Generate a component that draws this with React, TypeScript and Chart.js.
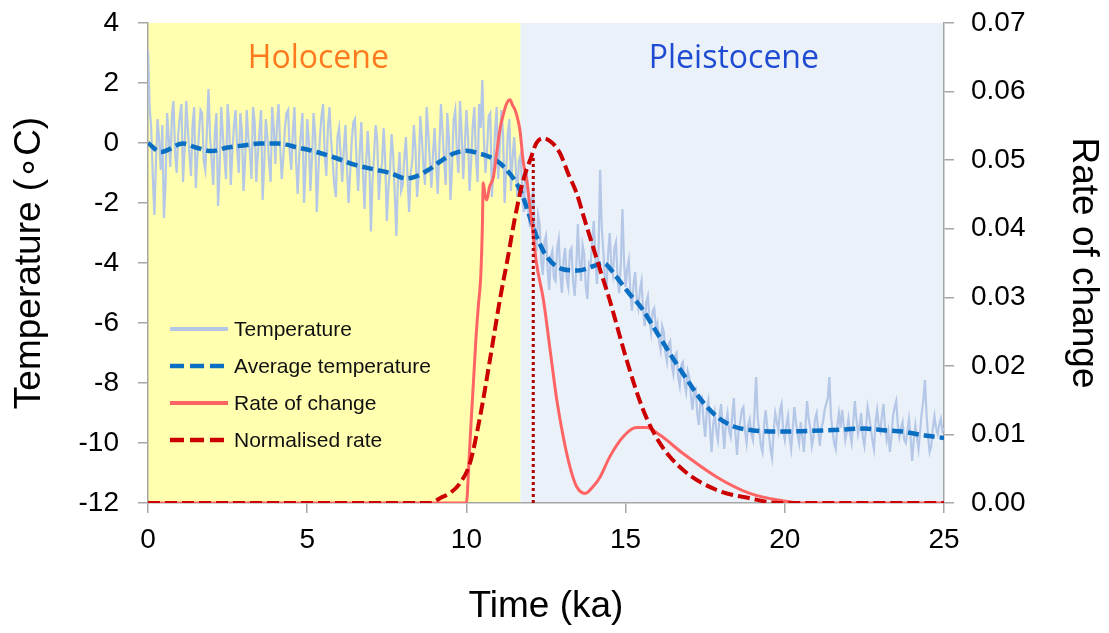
import React, { useEffect, useRef } from "react";
import { Chart, registerables } from "chart.js";

Chart.register(...registerables);

// ---------- axes ----------
const X_TICKS = [0, 5, 10, 15, 20, 25];
const TEMP_TICKS = [-12, -10, -8, -6, -4, -2, 0, 2, 4];
const RATE_TICKS = [0, 0.01, 0.02, 0.03, 0.04, 0.05, 0.06, 0.07];

// ---------- periods ----------
const PERIOD_NAMES = ["Holocene", "Pleistocene"];
const PERIOD_BOUNDS = [0, 11.7, 25];
const PERIOD_LABEL_X = [5.35, 18.4];
const PERIOD_LABEL_Y = [2.49, 2.49];

// ---------- temperature (ka, step 0.05) ----------
const TEMP_START = 0;
const TEMP_STEP = 0.05;
const TEMP_VALUES = [
  3.1, 1.2, 0.5, -1.1, -2.4, -0.6, 0.8, 0.1, -0.9, 0.6, -2.5, -1.4, 1.0, 0.2, -0.8, 0.9, 1.4, -0.3, -1.0, 0.3,
  0.9, 1.3, -1.3, -0.2, 1.4, 0.5, -0.4, -1.1, 0.6, 1.2, -1.5, -0.5, 0.3, 1.1, 1.0, -0.6, -0.9, 0.4, 1.8, 0.2,
  -0.6, -1.4, 0.4, 1.0, -2.1, -0.9, 1.2, 0.3, -0.5, -1.2, 1.3, 0.6, -1.4, -0.3, 0.6, 1.1, -0.2, -1.0, 1.0, 0.4,
  -1.6, -0.6, 1.1, 0.2, -0.3, -1.2, 1.2, 0.7, -1.3, -0.4, 0.4, 1.1, -1.9, -0.7, 0.8, 0.2, -0.6, -1.3, 1.2, 0.5,
  -0.7, 0.6, 1.3, -0.1, -1.2, -0.5, 0.5, 1.0, 1.1, -0.3, -0.9, 0.4, 1.2, -0.6, -1.7, -0.4, 0.3, 1.0, -2.0, -0.8,
  0.8, 0.1, -1.6, -0.5, 1.0, 0.3, -2.3, -1.0, 0.2, 0.9, 1.3, -0.4, -1.1, 0.5, 1.2, 0.1, -0.6, -1.4, -1.8, 0.2,
  0.5, -0.4, -1.3, -0.2, 0.6, -0.8, -2.0, -1.0, 0.1, 0.7, 0.8, -0.6, -1.6, -0.3, 0.7, -0.9, -2.2, -0.7, 0.4, -0.5,
  -2.95, -1.3, -0.4, 0.6, 0.1, -1.9, -1.0, -0.7, 0.5, -0.6, -2.6, -1.5, -0.9, 0.3, -0.4, -1.7, -3.1, -1.2, -0.3, -1.6,
  -1.4, -0.5, 0.2, -1.1, -2.3, -1.0, -0.6, 0.6, -0.2, -1.8, -1.1, 0.9, 0.2, -0.8, -1.4, 1.2, 0.4, -0.6, -1.5, -0.4,
  0.5, -0.7, -1.7, -0.2, 1.3, 0.4, -0.6, -1.4, 1.0, 0.2, -1.9, -0.8, 0.8, 1.1, -0.3, -1.0, 1.4, 0.3, -1.2, -0.1,
  1.1, 0.2, -1.6, -0.6, 0.6, 1.2, -0.5, -1.3, 1.3, 0.5, 2.1, 0.1, -1.0, -0.2, 0.9, 1.0, -1.8, -0.9, 0.4, 1.2,
  -1.2, -0.1, 1.1, 0.3, -2.0, -0.9, 0.3, 0.8, -1.6, -0.5, 0.2, -0.8, -1.8, -0.6, -0.4, -1.4, -2.3, -1.1, -1.0, -2.4,
  -2.8, -1.9, -1.6, -3.0, -3.6, -2.4, -2.7, -3.9, -4.4, -3.3, -3.1, -4.2, -4.9, -3.8, -3.6, -4.5, -4.6, -3.5, -3.2, -4.4,
  -5.0, -3.9, -3.5, -4.5, -4.8, -3.6, -3.5, -4.6, -5.1, -4.2, -2.7, -3.9, -4.6, -3.4, -3.7, -4.8, -5.2, -4.0, -4.1, -3.3,
  -2.6, -3.8, -4.7, -3.6, -0.9, -2.8, -3.6, -4.5, -4.9, -3.7, -3.0, -4.1, -4.4, -3.5, -3.3, -4.6, -5.0, -4.0, -2.2, -3.9,
  -4.8, -4.2, -3.9, -5.0, -5.6, -4.7, -4.3, -5.2, -5.5, -4.9, -4.6, -5.6, -6.1, -5.3, -5.1, -5.9, -6.3, -5.6, -5.5, -6.2,
  -6.0, -6.6, -6.9, -6.1, -6.3, -7.0, -7.3, -6.7, -6.6, -7.4, -7.7, -7.1, -7.0, -7.8, -8.1, -7.4, -7.3, -8.0, -8.3, -7.6,
  -7.8, -8.4, -8.9, -8.3, -8.2, -9.0, -9.4, -8.6, -8.5, -9.3, -9.8, -8.9, -8.6, -9.5, -10.3, -9.4, -9.0, -9.6, -9.9, -9.1,
  -8.7, -9.5, -10.2, -9.3, -9.0, -9.6, -9.8, -9.1, -8.5, -9.7, -10.4, -9.6, -9.3, -8.9, -8.8, -9.6, -10.0, -9.4, -9.2, -9.7,
  -9.9, -8.9, -7.8, -9.2, -9.6, -10.1, -10.3, -9.4, -8.9, -9.5, -9.7, -10.2, -10.5, -9.6, -9.0, -9.3, -9.6, -8.9, -8.7, -9.6,
  -9.9, -9.4, -9.1, -9.8, -10.2, -9.5, -8.8, -9.3, -9.7, -10.0, -9.3, -9.8, -10.3, -9.4, -8.6, -9.2, -9.5, -10.1, -9.8, -9.2,
  -9.0, -9.6, -10.1, -9.5, -9.3, -8.9, -8.7, -8.5, -7.8, -9.1, -9.6, -10.0, -10.2, -9.4, -9.0, -9.5, -8.9, -9.4, -9.9, -9.6,
  -9.2, -9.7, -10.0, -9.3, -8.6, -9.2, -9.7, -9.4, -9.0, -9.8, -10.1, -9.5, -8.8, -9.1, -9.5, -9.9, -10.2, -9.3, -8.9, -9.4,
  -9.6, -9.1, -8.7, -9.5, -9.9, -9.6, -10.3, -9.8, -9.1, -8.8, -8.6, -9.4, -9.8, -9.5, -9.3, -9.9, -10.0, -9.6, -9.2, -9.8,
  -10.6, -9.9, -9.4, -9.8, -10.2, -9.6, -9.0, -8.6, -7.9, -9.0, -9.8, -10.3, -10.1, -9.5, -9.1, -9.5, -9.7, -9.4, -9.2, -9.6,
  -9.5,
];

// ---------- average temperature ----------
const AVG_X = [0, 0.4, 1.1, 1.5, 2.0, 2.5, 3.0, 3.5, 4.1, 4.7, 5.3, 5.9, 6.5, 7.1, 7.6, 8.1, 8.4, 8.8, 9.2, 9.6, 10.0, 10.4, 10.8, 11.2, 11.7, 12.2, 12.5, 13.0, 13.5, 14.0, 14.3, 14.7, 15.1, 15.5, 16.0, 16.5, 17.0, 17.4, 17.9, 18.4, 19.0, 19.9, 20.7, 21.5, 22.5, 23.2, 23.7, 24.4, 25.0];
const AVG_Y = [0, -0.3, -0.02, -0.15, -0.27, -0.15, -0.08, -0.02, -0.02, -0.15, -0.3, -0.5, -0.73, -0.88, -1.0, -1.18, -1.12, -0.9, -0.6, -0.35, -0.26, -0.35, -0.5, -0.82, -1.6, -3.1, -3.75, -4.2, -4.25, -4.1, -4.0, -4.45, -5.0, -5.5, -6.35, -7.2, -8.0, -8.6, -9.15, -9.45, -9.58, -9.62, -9.6, -9.57, -9.52, -9.58, -9.62, -9.75, -9.83];

// ---------- rate of change (right axis) ----------
const RATE_X = [0, 10.0, 10.08, 10.15, 10.22, 10.3, 10.38, 10.45, 10.5, 10.53, 10.58, 10.64, 10.72, 10.85, 10.95, 11.05, 11.15, 11.27, 11.37, 11.45, 11.53, 11.6, 11.68, 11.79, 11.9, 12.0, 12.1, 12.2, 12.42, 12.63, 12.84, 13.04, 13.25, 13.46, 13.73, 13.98, 14.2, 14.51, 14.93, 15.35, 15.66, 16.08, 16.81, 17.86, 18.9, 19.95, 20.5, 25];
const RATE_Y = [0, 0, 0.006, 0.012, 0.0175, 0.024, 0.029, 0.033, 0.04, 0.0467, 0.045, 0.0442, 0.046, 0.0476, 0.051, 0.0544, 0.0565, 0.0583, 0.0588, 0.058, 0.0573, 0.0562, 0.0544, 0.0496, 0.047, 0.043, 0.039, 0.035, 0.0296, 0.0223, 0.015, 0.0097, 0.0053, 0.0024, 0.0014, 0.0024, 0.0038, 0.0068, 0.0097, 0.011, 0.011, 0.0099, 0.0072, 0.0038, 0.0014, 0.0003, 0, 0];

// ---------- normalised rate (right axis) ----------
const NORM_X = [0, 8.9, 9.17, 9.5, 9.8, 10.11, 10.43, 10.74, 11.05, 11.31, 11.5, 11.78, 12.0, 12.2, 12.41, 12.7, 12.94, 13.2, 13.46, 13.7, 13.88, 14.2, 14.5, 15.03, 15.55, 16.08, 16.81, 17.86, 18.9, 19.8, 25];
const NORM_Y = [0, 0, 0.0007, 0.0015, 0.0029, 0.0058, 0.0126, 0.0209, 0.0296, 0.036, 0.041, 0.047, 0.05, 0.0525, 0.0532, 0.0525, 0.051, 0.048, 0.0452, 0.0415, 0.0388, 0.034, 0.0296, 0.0209, 0.0136, 0.0087, 0.0048, 0.0019, 0.0007, 0, 0];

// ---------- marker line ----------
const MARKER_X = [12.1, 12.1];
const MARKER_Y = [0, 0.0505];

const LEGEND_LABELS = ["Temperature", "Average temperature", "Rate of change", "Normalised rate"];

const FONT = "'Liberation Sans', Arial, sans-serif";
const C_TEMP = "#B4C7E7";
const C_AVG = "#0A6FC2";
const C_RATE = "#FF6464";
const C_NORM = "#CC0000";
const C_MARK = "#B00000";
const AXIS_GREY = "#A6A6A6";

const zip = (xs: number[], ys: number[]) => xs.map((x, i) => ({ x, y: ys[i] }));

export default function App() {
  const ref = useRef<HTMLCanvasElement>(null);

  useEffect(() => {
    const canvas = ref.current;
    if (!canvas) return;

    const tempData = TEMP_VALUES.map((v, i) => ({ x: +(TEMP_START + i * TEMP_STEP).toFixed(3), y: v }));

    const overlay = {
      id: "overlay",
      beforeDraw(chart: any) {
        const { ctx, chartArea: a, scales } = chart;
        const fills = ["#FFFFAF", "#EBF1F9"];
        ctx.save();
        for (let i = 0; i < PERIOD_NAMES.length; i++) {
          const x0 = scales.x.getPixelForValue(PERIOD_BOUNDS[i]);
          const x1 = scales.x.getPixelForValue(PERIOD_BOUNDS[i + 1]);
          ctx.fillStyle = fills[i];
          ctx.fillRect(x0, a.top, x1 - x0, a.bottom - a.top);
        }
        ctx.restore();
      },
      afterDraw(chart: any) {
        const { ctx, chartArea: a, scales } = chart;
        ctx.save();
        const colors = ["#FF7A1E", "#1E4BD2"];
        ctx.font = "32px 'Open Sans', sans-serif";
        ctx.textAlign = "center";
        ctx.textBaseline = "alphabetic";
        for (let i = 0; i < PERIOD_NAMES.length; i++) {
          ctx.fillStyle = colors[i];
          ctx.fillText(
            PERIOD_NAMES[i],
            scales.x.getPixelForValue(PERIOD_LABEL_X[i]),
            scales.y.getPixelForValue(PERIOD_LABEL_Y[i])
          );
        }
        const styles = [
          { c: C_TEMP, w: 4, d: [] as number[] },
          { c: C_AVG, w: 4.5, d: [14, 6] },
          { c: C_RATE, w: 4, d: [] as number[] },
          { c: C_NORM, w: 4.5, d: [14, 6] },
        ];
        const lx0 = a.left + 22;
        const lx1 = a.left + 80;
        const tx = a.left + 86;
        const y0 = 329;
        const dy = 37;
        ctx.font = `21px ${FONT}`;
        ctx.textAlign = "left";
        ctx.textBaseline = "middle";
        for (let i = 0; i < LEGEND_LABELS.length; i++) {
          const y = y0 + i * dy;
          ctx.beginPath();
          ctx.strokeStyle = styles[i].c;
          ctx.lineWidth = styles[i].w;
          ctx.setLineDash(styles[i].d);
          ctx.lineCap = "butt";
          ctx.moveTo(lx0, y);
          ctx.lineTo(lx1, y);
          ctx.stroke();
          ctx.setLineDash([]);
          ctx.fillStyle = "#111";
          ctx.fillText(LEGEND_LABELS[i], tx, y + 1);
        }
        ctx.restore();
      },
    };

    const tickFont = { family: FONT, size: 28 };
    const titleFont = { family: FONT, size: 37 };

    const chart = new Chart(canvas, {
      type: "line",
      data: {
        datasets: [
          {
            label: "Normalised rate",
            data: zip(NORM_X, NORM_Y),
            yAxisID: "y2",
            borderColor: C_NORM,
            borderWidth: 4,
            borderDash: [12, 5],
            pointRadius: 0,
            cubicInterpolationMode: "monotone",
            fill: false,
          },
          {
            label: "Marker",
            data: zip(MARKER_X, MARKER_Y),
            yAxisID: "y2",
            borderColor: C_MARK,
            borderWidth: 3,
            borderDash: [3, 3],
            pointRadius: 0,
            fill: false,
          },
          {
            label: "Rate of change",
            data: zip(RATE_X, RATE_Y),
            yAxisID: "y2",
            borderColor: C_RATE,
            borderWidth: 3,
            pointRadius: 0,
            cubicInterpolationMode: "monotone",
            fill: false,
          },
          {
            label: "Average temperature",
            data: zip(AVG_X, AVG_Y),
            yAxisID: "y",
            borderColor: C_AVG,
            borderWidth: 4.5,
            borderDash: [11, 5],
            pointRadius: 0,
            cubicInterpolationMode: "monotone",
            fill: false,
          },
          {
            label: "Temperature",
            data: tempData,
            yAxisID: "y",
            borderColor: C_TEMP,
            borderWidth: 2.2,
            pointRadius: 0,
            tension: 0,
            fill: false,
          },
        ],
      },
      options: {
        responsive: false,
        animation: false,
        devicePixelRatio: 1,
        events: [],
        layout: { padding: { top: 23, left: 0, right: 0, bottom: 0 } },
        plugins: { legend: { display: false }, tooltip: { enabled: false } },
        scales: {
          x: {
            type: "linear",
            min: 0,
            max: 25,
            afterBuildTicks: (s: any) => {
              s.ticks = X_TICKS.map((v) => ({ value: v }));
            },
            afterFit: (s: any) => {
              s.height = 130;
              s.paddingLeft = 0;
              s.paddingRight = 0;
            },
            ticks: { font: tickFont, color: "#000", padding: 10, maxRotation: 0, autoSkip: false },
            grid: { drawOnChartArea: false, drawTicks: true, tickLength: 10, color: AXIS_GREY, lineWidth: 1.5 },
            border: { display: true, color: AXIS_GREY, width: 1.5 },
            title: { display: true, text: "Time (ka)", font: titleFont, color: "#000", padding: { top: 0, bottom: 4 } },
          },
          y: {
            type: "linear",
            position: "left",
            min: -12,
            max: 4,
            afterBuildTicks: (s: any) => {
              s.ticks = TEMP_TICKS.map((v) => ({ value: v }));
            },
            afterFit: (s: any) => {
              s.width = 148;
              s.paddingTop = 0;
              s.paddingBottom = 0;
            },
            ticks: { font: tickFont, color: "#000", padding: 19, autoSkip: false },
            grid: { drawOnChartArea: false, drawTicks: true, tickLength: 10, color: AXIS_GREY, lineWidth: 1.5 },
            border: { display: true, color: AXIS_GREY, width: 1.5 },
            title: { display: true, text: "Temperature (\u2218C)", font: titleFont, color: "#000", padding: { top: 8, bottom: 0 } },
          },
          y2: {
            type: "linear",
            position: "right",
            min: 0,
            max: 0.07,
            afterBuildTicks: (s: any) => {
              s.ticks = RATE_TICKS.map((v) => ({ value: v }));
            },
            afterFit: (s: any) => {
              s.width = 165;
              s.paddingTop = 0;
              s.paddingBottom = 0;
            },
            ticks: {
              font: tickFont,
              color: "#000",
              padding: 17,
              autoSkip: false,
              callback: (v: any) => Number(v).toFixed(2),
            },
            grid: { drawOnChartArea: false, drawTicks: true, tickLength: 10, color: AXIS_GREY, lineWidth: 1.5 },
            border: { display: true, color: AXIS_GREY, width: 1.5 },
            title: { display: true, text: "Rate of change", font: titleFont, color: "#000", padding: { top: 4, bottom: 0 } },
          },
        },
      },
      plugins: [overlay],
    } as any);

    return () => chart.destroy();
  }, []);

  return (
    <div style={{ position: "absolute", left: 0, top: 0, width: 1109, height: 633, background: "#fff" }}>
      <canvas ref={ref} width={1109} height={633} style={{ display: "block" }} />
    </div>
  );
}
